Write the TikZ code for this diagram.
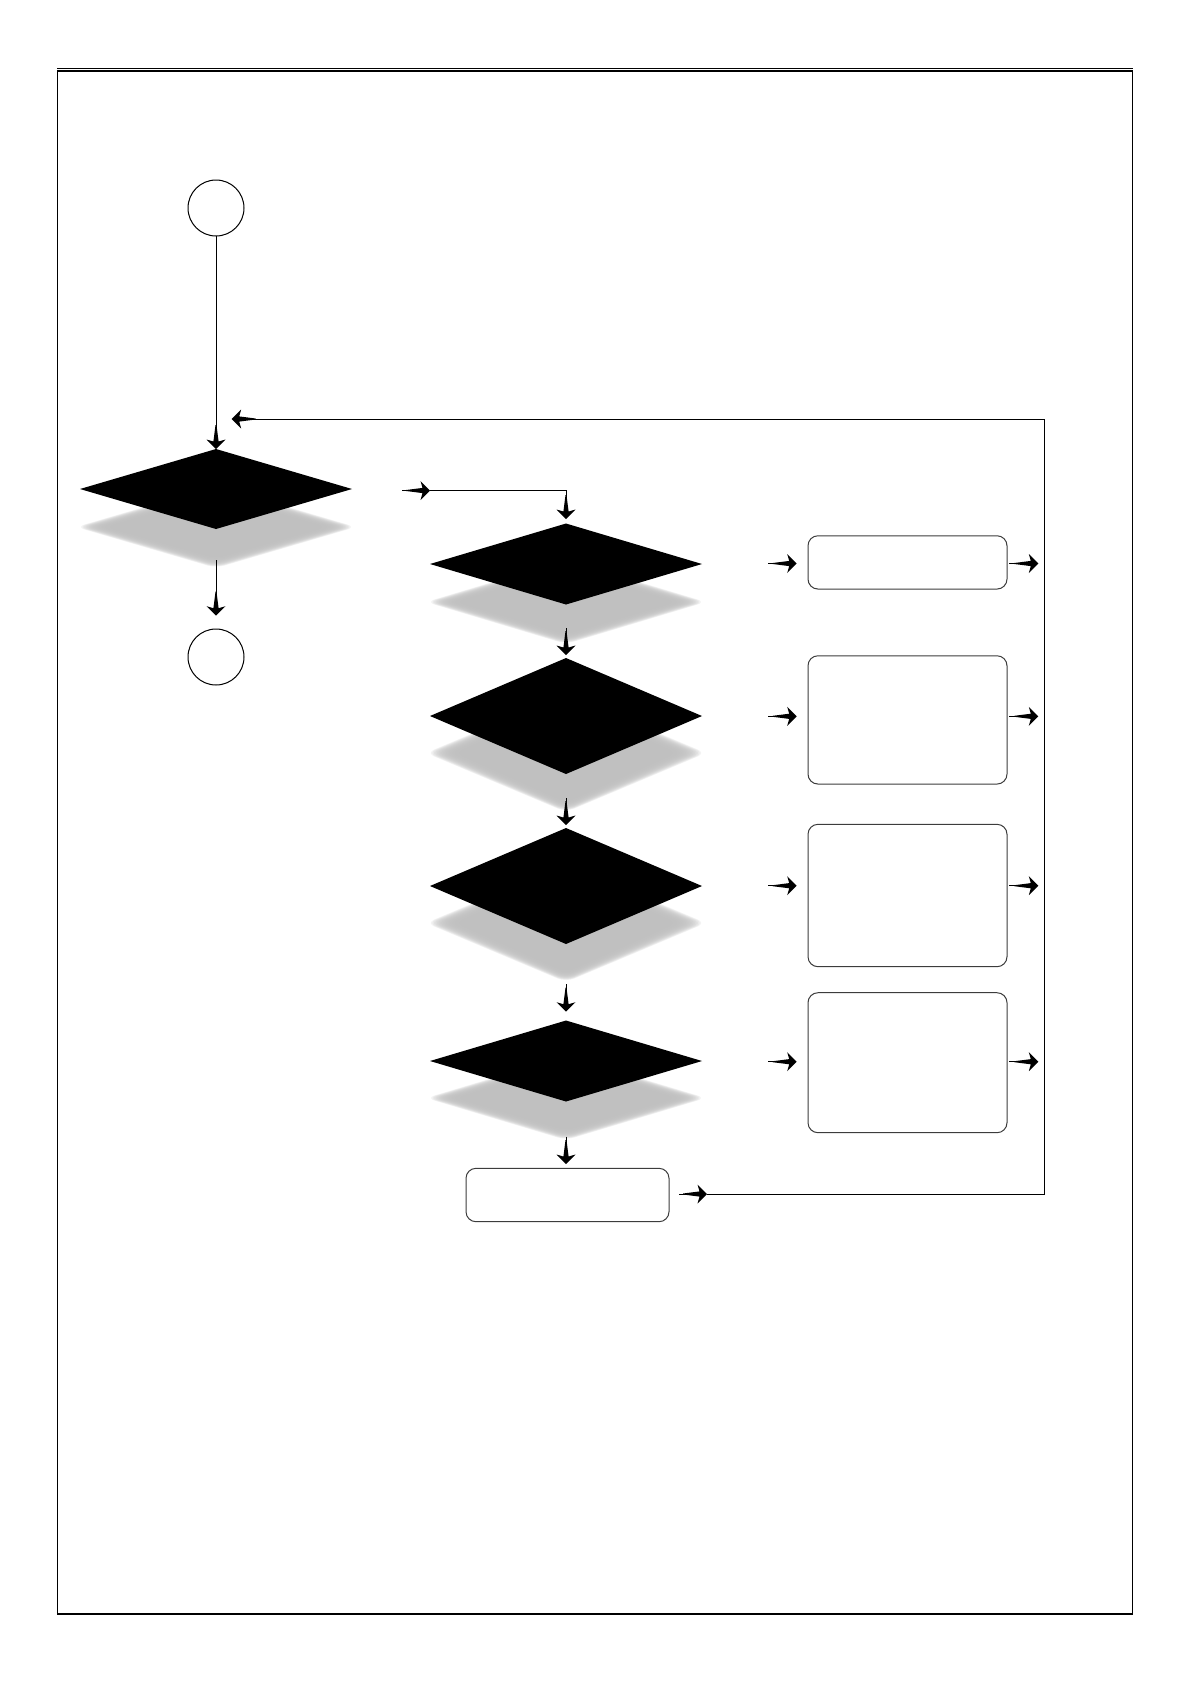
\documentclass[tikz,border=0pt]{standalone}
\usetikzlibrary{shapes.geometric,arrows.meta}
\definecolor{shadowc}{RGB}{191,191,191}
\definecolor{boxline}{RGB}{60,60,60}
\pgfdeclarearrow{
  name=VTip,
  setup code={
    \pgfarrowssettipend{0pt}
    \pgfarrowssetlineend{-20pt}
    \pgfarrowssetbackend{-24pt}
    \pgfarrowssetvisualbackend{-24pt}
    \pgfarrowshullpoint{0pt}{0pt}
    \pgfarrowshullpoint{-9.5pt}{9.5pt}
    \pgfarrowshullpoint{-9.5pt}{-9.5pt}
    \pgfarrowshullpoint{-24pt}{0pt}
  },
  drawing code={
    \pgfpathmoveto{\pgfqpoint{0pt}{0pt}}
    \pgfpathlineto{\pgfqpoint{-9.5pt}{9.5pt}}
    \pgfpathlineto{\pgfqpoint{-7.5pt}{2.6pt}}
    \pgfpathlineto{\pgfqpoint{-24pt}{0.5pt}}
    \pgfpathlineto{\pgfqpoint{-24pt}{-0.5pt}}
    \pgfpathlineto{\pgfqpoint{-7.5pt}{-2.6pt}}
    \pgfpathlineto{\pgfqpoint{-9.5pt}{-9.5pt}}
    \pgfpathclose
    \pgfusepathqfill
  }
}
\newcommand{\dshadow}[4]{%
  \foreach \dd in {-10,-9.5,...,0}{%
    \pgfmathsetmacro{\gw}{#3+3.0*\dd}%
    \pgfmathsetmacro{\gh}{#4+1.0*\dd}%
    \fill[shadowc, fill opacity=0.18, rounded corners=9pt] (#1-\gw,#2) -- (#1,#2-\gh) -- (#1+\gw,#2) -- (#1,#2+\gh) -- cycle;
  }%
}
\begin{document}
\begin{tikzpicture}[x=1pt,y=-1pt,
  dia/.style={diamond, fill=black, draw=none, inner sep=0pt, outer sep=0pt, minimum width=272pt},
  rbox/.style={rectangle, rounded corners=10pt, draw=boxline, line width=1pt, fill=white, inner sep=0pt, outer sep=0pt, minimum width=199pt},
  circ/.style={circle, draw=black, line width=1pt, minimum size=56pt, inner sep=0pt, outer sep=0pt},
  conn/.style={line width=1pt, -{VTip}}]
\useasboundingbox (0,0) rectangle (1190,1682);
% frame
\draw[line width=1.7pt] (57.5,70.8) rectangle (1132.5,1614);
\draw[line width=0.8pt] (57,68.4) -- (1133,68.4);

% shadows
\dshadow{216}{527}{140}{41}
\dshadow{566}{602}{140}{42}
\dshadow{566}{753}{140}{59}
\dshadow{566}{923}{140}{59}
\dshadow{566}{1098}{140}{42}

% nodes
\node[circ] (c1) at (216,208) {};
\node[circ] (c2) at (216,657) {};
\node[dia, minimum height=80pt] (d1) at (216,489) {};
\node[dia, minimum height=81pt] (d2) at (566,564) {};
\node[dia, minimum height=116pt] (d3) at (566,716) {};
\node[dia, minimum height=116pt] (d4) at (566,886) {};
\node[dia, minimum height=81pt] (d5) at (566,1061) {};
\node[rbox, minimum height=53.3pt] (b1) at (907.5,562.4) {};
\node[rbox, minimum height=128.3pt] (b2) at (907.5,719.9) {};
\node[rbox, minimum height=142.4pt] (b3) at (907.5,895.5) {};
\node[rbox, minimum height=140pt] (b4) at (907.5,1062.7) {};
\node[rbox, minimum width=203pt, minimum height=53.4pt] (bf) at (567.5,1195) {};

% connector coordinates
\coordinate (a1s) at (216,560);   \coordinate (a1e) at (216,615.7);
\coordinate (sts) at (402,490.5); \coordinate (ste) at (430,490.5);
\coordinate (k1)  at (566,490.5); \coordinate (k1e) at (566,519);
\coordinate (a2s) at (566,628);   \coordinate (a2e) at (566,655);
\coordinate (a3s) at (566,798);   \coordinate (a3e) at (566,825);
\coordinate (a4s) at (566,984);   \coordinate (a4e) at (566,1011.7);
\coordinate (a5s) at (566,1136.7);\coordinate (a5e) at (566,1164);
\coordinate (fs)  at (679,1194);  \coordinate (fe)  at (707,1194);
\coordinate (fc1) at (1044,1194); \coordinate (fc2) at (1044,419);
\coordinate (fend) at (231.7,419);

% connectors
\draw[conn] (c1.south) -- (d1.north);
\draw[conn] (a1s) -- (a1e);
\draw[conn] (sts) -- (ste);
\draw[conn] (ste) -- (k1) -- (k1e);
\draw[conn] (a2s) -- (a2e);
\draw[conn] (a3s) -- (a3e);
\draw[conn] (a4s) -- (a4e);
\draw[conn] (a5s) -- (a5e);
\foreach \yy/\nm in {563.5/1,716.3/2,885.7/3,1061.7/4}{
  \coordinate (li\nm) at (768,\yy); \coordinate (lo\nm) at (796.7,\yy);
  \coordinate (ri\nm) at (1009,\yy); \coordinate (ro\nm) at (1038.3,\yy);
  \draw[conn] (li\nm) -- (lo\nm);
  \draw[conn] (ri\nm) -- (ro\nm);
}
\draw[conn] (fs) -- (fe);
\draw[conn] (fe) -- (fc1) -- (fc2) -- (fend);
\end{tikzpicture}
\end{document}
